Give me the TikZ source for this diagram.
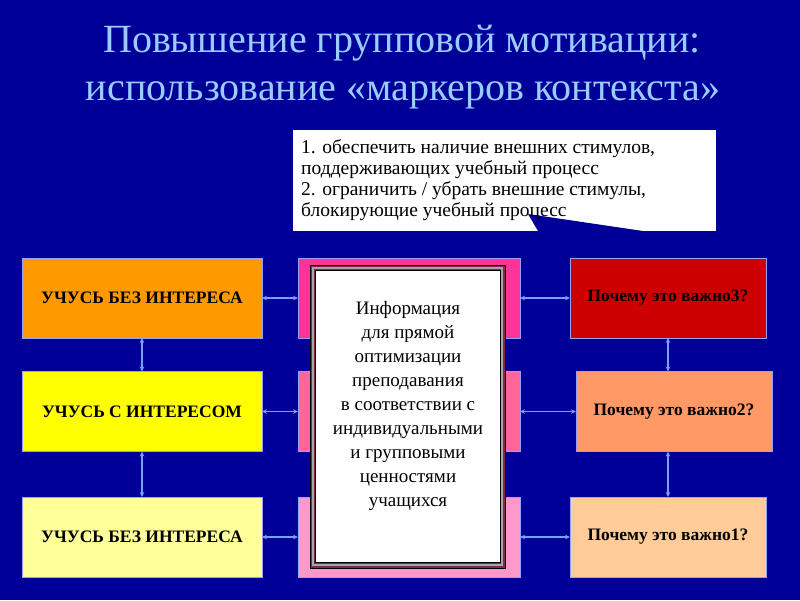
\documentclass[tikz,border=0pt]{standalone}
\usepackage{fontspec}
\setmainfont{Liberation Serif}
\usetikzlibrary{arrows.meta}
\definecolor{bgblue}{RGB}{0,0,153}
\definecolor{titleblue}{RGB}{153,204,255}
\definecolor{arrowblue}{RGB}{120,160,255}
\definecolor{edgeblue}{RGB}{150,160,255}
\definecolor{cOrange}{RGB}{255,153,0}
\definecolor{cYellow}{RGB}{255,255,0}
\definecolor{cLightYellow}{RGB}{255,255,153}
\definecolor{cPink1}{RGB}{255,51,153}
\definecolor{cPink2}{RGB}{255,102,153}
\definecolor{cPink3}{RGB}{255,153,204}
\definecolor{cRed}{RGB}{204,0,0}
\definecolor{cSalmon}{RGB}{255,153,102}
\definecolor{cPeach}{RGB}{255,204,153}
\definecolor{frameMaroon}{RGB}{130,40,80}
\tikzset{
  box/.style={draw=edgeblue, line width=0.8pt, minimum height=80pt, inner sep=0pt, outer sep=0pt,
    font=\fontsize{17.5}{20}\selectfont\bfseries, text=black},
  link/.style={draw=arrowblue, line width=1.3pt, {Stealth[length=5pt,width=4.5pt]}-{Stealth[length=5pt,width=4.5pt]}},
  titletext/.style={text=titleblue, font=\fontsize{40}{48}\selectfont, anchor=base, inner sep=0pt}
}
\begin{document}
\begin{tikzpicture}[x=1pt,y=-1pt]
\fill[bgblue] (0,0) rectangle (800,600);
\useasboundingbox (0,0) rectangle (800,600);
% title
\node[titletext] (t1) at (402,52) {Повышение групповой мотивации:};
\node[titletext] (t2) at (403,100) {использование «маркеров контекста»};
% callout
\node[fill=white, draw=white, minimum width=422pt, minimum height=100pt, inner sep=0pt, outer sep=0pt] (call) at (504,180) {};
\fill[bgblue] (528,214) -- (538,231) -- (643,231) -- cycle;
\node[anchor=north west, align=left, inner sep=0pt, font=\fontsize{19.5}{21}\selectfont, text=black] (calltext) at (301,139)
 {1. обеспечить наличие внешних стимулов,\\поддерживающих учебный процесс\\2. ограничить / убрать внешние стимулы,\\блокирующие учебный процесс};
% left column
\node[box, fill=cOrange, minimum width=240pt] (L1) at (142,298) {УЧУСЬ БЕЗ ИНТЕРЕСА};
\node[box, fill=cYellow, minimum width=240pt] (L2) at (142,411.5) {УЧУСЬ С ИНТЕРЕСОМ};
\node[box, fill=cLightYellow, minimum width=240pt] (L3) at (142,537) {УЧУСЬ БЕЗ ИНТЕРЕСА};
% middle column
\node[box, fill=cPink1, minimum width=222pt] (M1) at (409,298) {};
\node[box, fill=cPink2, minimum width=222pt] (M2) at (409,411.5) {};
\node[box, fill=cPink3, minimum width=222pt] (M3) at (409,537) {};
% right column
\node[box, fill=cRed, minimum width=196pt] (R1) at (668,298) {Почему это важно3?};
\node[box, fill=cSalmon, minimum width=196pt] (R2) at (674,411.5) {Почему это важно2?};
\node[box, fill=cPeach, minimum width=196pt] (R3) at (668,537) {Почему это важно1?};
% connectors
\draw[link] (L1.east) -- (M1.west);
\draw[link] (L2.east) -- (M2.west);
\draw[link] (L3.east) -- (M3.west);
\draw[link] (M1.east) -- (R1.west);
\draw[link] (M2.east) -- (R2.west);
\draw[link] (M3.east) -- (R3.west);
\draw[link] (L1.south) -- (L2.north);
\draw[link] (L2.south) -- (L3.north);
\draw[link] (R1.south -| 668,0) -- (R2.north -| 668,0);
\draw[link] (R2.south -| 668,0) -- (R3.north -| 668,0);
% info frame
\node[fill=frameMaroon, draw=black, line width=0.6pt, minimum width=195pt, minimum height=303pt, inner sep=0pt, outer sep=0pt] (frame) at (407.5,416.5) {};
\node[draw=gray!70, line width=1.6pt, minimum width=189pt, minimum height=297pt, inner sep=0pt, outer sep=0pt] (frame2) at (407.5,416.5) {};
\node[fill=white, draw=black, line width=0.6pt, minimum width=185pt, minimum height=292pt, inner sep=0pt, outer sep=0pt] (info) at (407.5,416.5) {};
\node[align=center, inner sep=0pt, anchor=north, font=\fontsize{19}{24}\selectfont, text=black] (infotext) at (408,301)
 {Информация\\для прямой\\оптимизации\\преподавания\\в соответствии с\\индивидуальными\\и групповыми\\ценностями\\учащихся};
\end{tikzpicture}
\end{document}
